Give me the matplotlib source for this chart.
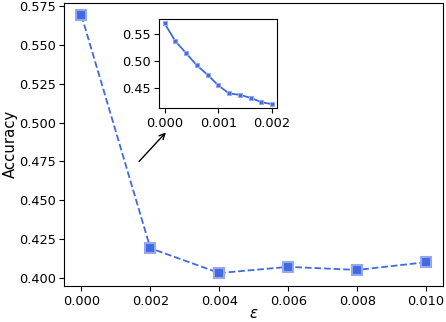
import numpy as np
import matplotlib
matplotlib.use("Agg")
import matplotlib.pyplot as plt

# main curve
eps = [0.000, 0.002, 0.004, 0.006, 0.008, 0.010]
acc = [0.569, 0.419, 0.403, 0.407, 0.405, 0.410]

# zoom on small epsilon
eps_small = [0.0000, 0.0002, 0.0004, 0.0006, 0.0008, 0.0010,
             0.0012, 0.0014, 0.0016, 0.0018, 0.0020]
acc_small = [0.569, 0.536, 0.514, 0.4915, 0.474, 0.4545,
             0.4395, 0.437, 0.4315, 0.4235, 0.4198]

color = "royalblue"
edge = "#93a8f0"

plt.rcParams["xtick.labelsize"] = 9.3
plt.rcParams["ytick.labelsize"] = 9.3
plt.rcParams["axes.labelsize"] = 10.7
plt.rcParams["xtick.major.size"] = 3.3
plt.rcParams["ytick.major.size"] = 3.3
plt.rcParams["xtick.major.pad"] = 3.0
plt.rcParams["ytick.major.pad"] = 2.6

fig = plt.figure(figsize=(4.46, 3.22), dpi=100)
ax = fig.add_axes([0.144, 0.112, 0.850, 0.880])
ax.plot(eps, acc, "--", color=color, marker="s", ms=7.5,
        mfc=color, mec=edge, mew=1.5, lw=1.3)
ax.set_xticks([0.000, 0.002, 0.004, 0.006, 0.008, 0.010])
ax.set_xticklabels([f"{v:.3f}" for v in ax.get_xticks()])
ax.set_yticks(np.arange(0.400, 0.5751, 0.025))
ax.set_yticklabels([f"{v:.3f}" for v in ax.get_yticks()])
ax.set_xlabel(r"$\varepsilon$", labelpad=-1)
ax.set_ylabel("Accuracy", labelpad=1)

# inset
ins = fig.add_axes([0.357, 0.664, 0.265, 0.276])
ins.plot(eps_small, acc_small, "-", color=color, marker="s", ms=3,
         mfc=color, mec=edge, mew=0.8, lw=1.3)
ins.set_xticks([0.000, 0.001, 0.002])
ins.set_xticklabels([f"{v:.3f}" for v in ins.get_xticks()])
ins.set_yticks([0.45, 0.50, 0.55])
ins.set_yticklabels([f"{v:.2f}" for v in ins.get_yticks()])

# arrow pointing at the inset
ax.annotate("", xy=(0.00245, 0.4936), xytext=(0.00167, 0.4749),
            arrowprops=dict(arrowstyle="->", color="black", lw=1,
                            shrinkA=0, shrinkB=0))

fig.savefig("out.png", dpi=100)
